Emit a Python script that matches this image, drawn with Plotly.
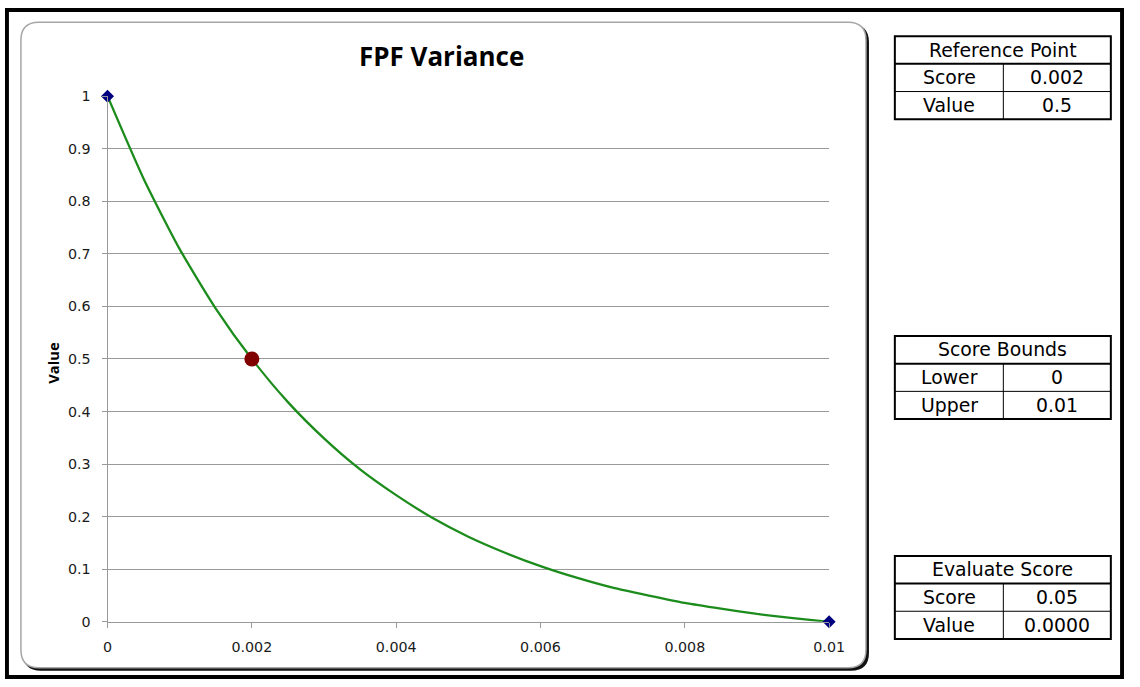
import plotly.graph_objects as go

# ---- data ----
score = [0, 0.0005, 0.001, 0.0015, 0.002, 0.0025, 0.003, 0.0035, 0.004, 0.0045,
         0.005, 0.0055, 0.006, 0.0065, 0.007, 0.0075, 0.008, 0.0085, 0.009, 0.0095, 0.01]
value = [1.0, 0.843, 0.709, 0.596, 0.5, 0.418, 0.349, 0.290, 0.241, 0.198,
         0.162, 0.132, 0.106, 0.084, 0.065, 0.050, 0.036, 0.025, 0.015, 0.007, 0.0]

bound_scores = [0, 0.01]
bound_values = [1, 0]

ref_score = [0.002]
ref_value = [0.5]

x_ticks = [0, 0.002, 0.004, 0.006, 0.008, 0.01]
x_tick_text = ["0", "0.002", "0.004", "0.006", "0.008", "0.01"]
y_ticks = [0, 0.1, 0.2, 0.3, 0.4, 0.5, 0.6, 0.7, 0.8, 0.9, 1]
y_tick_text = ["0", "0.1", "0.2", "0.3", "0.4", "0.5", "0.6", "0.7", "0.8", "0.9", "1"]

tables = [
    ("Reference Point", [("Score", "0.002"), ("Value", "0.5")]),
    ("Score Bounds", [("Lower", "0"), ("Upper", "0.01")]),
    ("Evaluate Score", [("Score", "0.05"), ("Value", "0.0000")]),
]

# ---- layout geometry ----
# Positions below are given in screen pixels of the finished view;
# px/py convert them into paper coordinates of the W x H figure.
W, H = 1140, 687
KX = 1156 / 1140
KY = 703 / 687
OFF_X = 2.0
OFF_Y = 8.0 / KY
FONT_K = (KX + KY) / 2


def px(x):
    return ((x - OFF_X) * KX) / W


def py(y):
    return 1 - ((y - OFF_Y) * KY) / H


def rounded_rect(x0, y0, x1, y1, r):
    return (
        f"M {px(x0 + r)} {py(y0)} L {px(x1 - r)} {py(y0)} "
        f"Q {px(x1)} {py(y0)} {px(x1)} {py(y0 + r)} "
        f"L {px(x1)} {py(y1 - r)} "
        f"Q {px(x1)} {py(y1)} {px(x1 - r)} {py(y1)} "
        f"L {px(x0 + r)} {py(y1)} "
        f"Q {px(x0)} {py(y1)} {px(x0)} {py(y1 - r)} "
        f"L {px(x0)} {py(y0 + r)} "
        f"Q {px(x0)} {py(y0)} {px(x0 + r)} {py(y0)} Z"
    )


def fs(size):
    return round(size * FONT_K, 2)


PLOT_L, PLOT_R, PLOT_T, PLOT_B = 105, 830, 96, 622
TITLE_FONT = "'Open Sans', Lato, sans-serif"
TICK_FONT = "'DejaVu Sans', sans-serif"
TABLE_FONT = "'DejaVu Sans', sans-serif"

fig = go.Figure()

fig.add_trace(go.Scatter(
    x=score, y=value, mode="lines",
    line=dict(color="#1c8c1c", width=2.3, shape="spline", smoothing=0.6),
    hoverinfo="skip", cliponaxis=False, showlegend=False,
))
fig.add_trace(go.Scatter(
    x=bound_scores, y=bound_values, mode="markers",
    marker=dict(symbol="diamond", size=10, color="#000080"),
    cliponaxis=False, showlegend=False,
))
fig.add_trace(go.Scatter(
    x=ref_score, y=ref_value, mode="markers",
    marker=dict(symbol="circle", size=15, color="#800000"),
    cliponaxis=False, showlegend=False,
))

shapes = []
# black frame along the figure edges
shapes.append(dict(type="rect", xref="paper", yref="paper", layer="below",
                   x0=0, x1=1, y0=0, y1=1,
                   fillcolor="black", line=dict(width=0)))
shapes.append(dict(type="rect", xref="paper", yref="paper", layer="below",
                   x0=4 / W, x1=1 - 4 / W, y0=4 / H, y1=1 - 4 / H,
                   fillcolor="white", line=dict(width=0)))
# chart area: shadow then rounded panel
shapes.append(dict(type="path", xref="paper", yref="paper", layer="below",
                   path=rounded_rect(20, 24, 870, 671, 18),
                   fillcolor="#111111", line=dict(width=0)))
shapes.append(dict(type="path", xref="paper", yref="paper", layer="below",
                   path=rounded_rect(18, 22, 867, 668, 18),
                   fillcolor="white", line=dict(color="#a6a6a6", width=1.5)))

annotations = []

# info tables
TX0, TX1, TXM = 896, 1113, 1005
ROW_H = 27.7
for (title, rows), top in zip(tables, [36, 336, 556]):
    bottom = top + ROW_H * 3
    r1 = top + ROW_H
    r2 = top + ROW_H * 2
    shapes.append(dict(type="rect", xref="paper", yref="paper",
                       x0=px(TX0), x1=px(TX1), y0=py(bottom), y1=py(top),
                       fillcolor="white", line=dict(color="black", width=2)))
    shapes.append(dict(type="line", xref="paper", yref="paper",
                       x0=px(TX0), x1=px(TX1), y0=py(r1), y1=py(r1),
                       line=dict(color="black", width=2)))
    shapes.append(dict(type="line", xref="paper", yref="paper",
                       x0=px(TX0), x1=px(TX1), y0=py(r2), y1=py(r2),
                       line=dict(color="black", width=1)))
    shapes.append(dict(type="line", xref="paper", yref="paper",
                       x0=px(TXM), x1=px(TXM), y0=py(bottom), y1=py(r1),
                       line=dict(color="black", width=1)))
    annotations.append(dict(text=title, xref="paper", yref="paper",
                            x=px((TX0 + TX1) / 2), y=py(top + ROW_H / 2),
                            xanchor="center", yanchor="middle", showarrow=False,
                            font=dict(family=TABLE_FONT, size=fs(18.5), color="black")))
    for (label, val), ry in zip(rows, [r1, r2]):
        annotations.append(dict(text=label, xref="paper", yref="paper",
                                x=px((TX0 + TXM) / 2), y=py(ry + ROW_H / 2),
                                xanchor="center", yanchor="middle", showarrow=False,
                                font=dict(family=TABLE_FONT, size=fs(18.5), color="black")))
        annotations.append(dict(text=val, xref="paper", yref="paper",
                                x=px((TXM + TX1) / 2), y=py(ry + ROW_H / 2),
                                xanchor="center", yanchor="middle", showarrow=False,
                                font=dict(family=TABLE_FONT, size=fs(18.5), color="black")))

# title and y-axis label
annotations.append(dict(text="<b>FPF Variance</b>", xref="paper", yref="paper",
                        x=px(441), y=py(56), xanchor="center", yanchor="middle",
                        showarrow=False,
                        font=dict(family=TITLE_FONT, size=fs(25.5), color="black")))
annotations.append(dict(text="<b>Value</b>", xref="paper", yref="paper",
                        x=px(50), y=py(363), xanchor="center", yanchor="middle",
                        textangle=-90, showarrow=False,
                        font=dict(family=TITLE_FONT, size=fs(14.5), color="black")))

fig.update_layout(
    width=W, height=H,
    margin=dict(l=0, r=0, t=0, b=0),
    paper_bgcolor="white", plot_bgcolor="rgba(0,0,0,0)",
    shapes=shapes, annotations=annotations,
    xaxis=dict(domain=[px(PLOT_L), px(PLOT_R)], range=[0, 0.01],
               tickvals=x_ticks, ticktext=x_tick_text,
               showgrid=False, zeroline=False, showline=True,
               linecolor="#999999", linewidth=1,
               ticks="outside", ticklen=5, tickcolor="#999999",
               ticklabelstandoff=7,
               tickfont=dict(family=TICK_FONT, size=fs(14), color="#1a1a1a")),
    yaxis=dict(domain=[py(PLOT_B), py(PLOT_T)], range=[0, 1],
               tickvals=y_ticks, ticktext=y_tick_text,
               showgrid=True, gridcolor="#999999", gridwidth=1,
               zeroline=False, showline=True,
               linecolor="#999999", linewidth=1,
               ticks="outside", ticklen=5, tickcolor="#999999",
               ticklabelstandoff=8,
               tickfont=dict(family=TICK_FONT, size=fs(14), color="#1a1a1a")),
    hovermode=False,
)

fig.write_html("out.html")
